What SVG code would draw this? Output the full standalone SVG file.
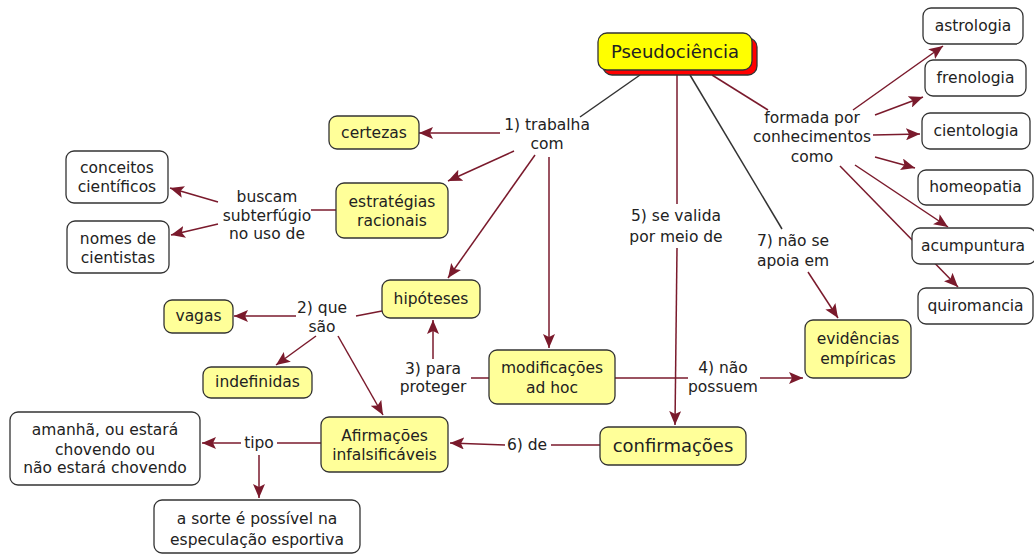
<svg xmlns="http://www.w3.org/2000/svg" width="1034" height="556" viewBox="0 0 1034 556">
<defs>
<marker id="ah" viewBox="0 0 14 12" refX="14" refY="6" markerWidth="14" markerHeight="12" markerUnits="userSpaceOnUse" orient="auto">
<path d="M0,0 L14,6 L0,12 L3,6 z" fill="#7a1a2c"/>
</marker>
<style>
text{font-family:"DejaVu Sans",Verdana,sans-serif;font-size:15.5px;fill:#222;text-anchor:middle}
.big{font-size:18px}
.n rect{stroke:#333;stroke-width:1.3}
.y rect{fill:#ffff99}
.w rect{fill:#fff}
.c line{stroke:#7a1a2c;stroke-width:1.5}
.c line.a{marker-end:url(#ah)}
.c line.k{stroke:#333}
</style>
</defs>
<rect width="1034" height="556" fill="#fff"/>
<g class="c" id="connectors">
<line class="k" x1="640" y1="75" x2="580" y2="117"/>
<line x1="712" y1="75" x2="768" y2="110"/>
<line x1="677" y1="70" x2="677" y2="204"/>
<line class="k" x1="690" y1="75" x2="782" y2="229"/>
<line class="a" x1="500" y1="133" x2="419" y2="133"/>
<line class="a" x1="514" y1="151" x2="448" y2="181"/>
<line class="a" x1="535" y1="155" x2="448" y2="278"/>
<line class="a" x1="549" y1="157" x2="549" y2="348"/>
<line x1="336" y1="210" x2="311" y2="210"/>
<line class="a" x1="218" y1="202" x2="170" y2="188"/>
<line class="a" x1="218" y1="224" x2="171" y2="235"/>
<line x1="382" y1="311" x2="356" y2="316"/>
<line class="a" x1="296" y1="316" x2="234" y2="316"/>
<line class="a" x1="316" y1="336" x2="276" y2="365"/>
<line class="a" x1="338" y1="336" x2="383" y2="415"/>
<line class="a" x1="433" y1="359" x2="433" y2="320"/>
<line x1="489" y1="378" x2="471" y2="378"/>
<line x1="615" y1="378" x2="688" y2="378"/>
<line class="a" x1="760" y1="378" x2="803" y2="378"/>
<line class="a" x1="677" y1="248" x2="675" y2="425"/>
<line x1="600" y1="445" x2="551" y2="445"/>
<line class="a" x1="505" y1="445" x2="450" y2="443"/>
<line x1="321" y1="443" x2="277" y2="443"/>
<line class="a" x1="241" y1="443" x2="202" y2="443"/>
<line class="a" x1="259" y1="455" x2="259" y2="498"/>
<line class="a" x1="808" y1="272" x2="838" y2="318"/>
<line class="a" x1="853" y1="110" x2="943" y2="46"/>
<line class="a" x1="875" y1="115" x2="923" y2="97"/>
<line class="a" x1="873" y1="135" x2="920" y2="134"/>
<line class="a" x1="875" y1="157" x2="915" y2="168"/>
<line class="a" x1="855" y1="165" x2="948" y2="227"/>
<line class="a" x1="840" y1="166" x2="958" y2="287"/>
</g>
<g id="pseudociencia" class="n">
<rect x="603" y="38" width="154" height="37" rx="9" fill="#ff0000" stroke="none"/>
<rect x="598" y="33" width="154" height="37" rx="9" fill="#ffff00"/>
<text class="big" x="675" y="58">Pseudociência</text>
</g>
<g id="certezas" class="n y"><rect x="329" y="116" width="90" height="33" rx="8"/><text x="374" y="138">certezas</text></g>
<g id="estrategias" class="n y"><rect x="336" y="183" width="112" height="55" rx="8"/><text x="392" y="207">estratégias</text><text x="392" y="226">racionais</text></g>
<g id="conceitos" class="n w"><rect x="66" y="151" width="102" height="52" rx="8"/><text x="117" y="173">conceitos</text><text x="117" y="192">científicos</text></g>
<g id="nomes" class="n w"><rect x="67" y="221" width="102" height="52" rx="8"/><text x="118" y="244">nomes de</text><text x="118" y="263">cientistas</text></g>
<g id="hipoteses" class="n y"><rect x="382" y="280" width="98" height="38" rx="8"/><text x="431" y="304">hipóteses</text></g>
<g id="vagas" class="n y"><rect x="164" y="300" width="69" height="33" rx="8"/><text x="198.5" y="321">vagas</text></g>
<g id="indefinidas" class="n y"><rect x="203" y="367" width="109" height="31" rx="8"/><text x="257.5" y="387">indefinidas</text></g>
<g id="modificacoes" class="n y"><rect x="489" y="350" width="126" height="54" rx="8"/><text x="552" y="373">modificações</text><text x="552" y="393">ad hoc</text></g>
<g id="evidencias" class="n y"><rect x="805" y="320" width="106" height="58" rx="8"/><text x="858" y="344">evidências</text><text x="858" y="364">empíricas</text></g>
<g id="confirmacoes" class="n y"><rect x="600" y="427" width="146" height="38" rx="8"/><text class="big" x="673" y="452">confirmações</text></g>
<g id="afirmacoes" class="n y"><rect x="321" y="417" width="127" height="55" rx="8"/><text x="384.5" y="441">Afirmações</text><text x="384.5" y="460">infalsificáveis</text></g>
<g id="amanha" class="n w"><rect x="10" y="412" width="190" height="73" rx="8"/><text x="105" y="435">amanhã, ou estará</text><text x="105" y="455">chovendo ou</text><text x="105" y="473">não estará chovendo</text></g>
<g id="sorte" class="n w"><rect x="154" y="500" width="206" height="53" rx="8"/><text x="257" y="524">a sorte é possível na</text><text x="257" y="545">especulação esportiva</text></g>
<g id="astrologia" class="n w"><rect x="923" y="8" width="100" height="36" rx="8"/><text x="973" y="31">astrologia</text></g>
<g id="frenologia" class="n w"><rect x="925" y="60" width="101" height="36" rx="8"/><text x="975.5" y="83">frenologia</text></g>
<g id="cientologia" class="n w"><rect x="922" y="113" width="108" height="36" rx="8"/><text x="976" y="136">cientologia</text></g>
<g id="homeopatia" class="n w"><rect x="918" y="170" width="115" height="35" rx="8"/><text x="975.5" y="192">homeopatia</text></g>
<g id="acumpuntura" class="n w"><rect x="912" y="228" width="124" height="36" rx="8"/><text x="973" y="251">acumpuntura</text></g>
<g id="quiromancia" class="n w"><rect x="918" y="288" width="115" height="36" rx="8"/><text x="975.5" y="311">quiromancia</text></g>
<g id="labels">
<text x="547" y="130">1) trabalha</text><text x="547" y="149">com</text>
<text x="267" y="202">buscam</text><text x="267" y="221">subterfúgio</text><text x="267" y="239">no uso de</text>
<text x="322" y="313">2) que</text><text x="322" y="332">são</text>
<text x="433" y="374">3) para</text><text x="433" y="392">proteger</text>
<text x="723" y="373">4) não</text><text x="723" y="392">possuem</text>
<text x="676" y="221">5) se valida</text><text x="676" y="242">por meio de</text>
<text x="527" y="450">6) de</text>
<text x="793" y="246">7) não se</text><text x="793" y="266">apoia em</text>
<text x="812" y="123">formada por</text><text x="812" y="142">conhecimentos</text><text x="812" y="162">como</text>
<text x="259" y="448">tipo</text>
</g>
</svg>
